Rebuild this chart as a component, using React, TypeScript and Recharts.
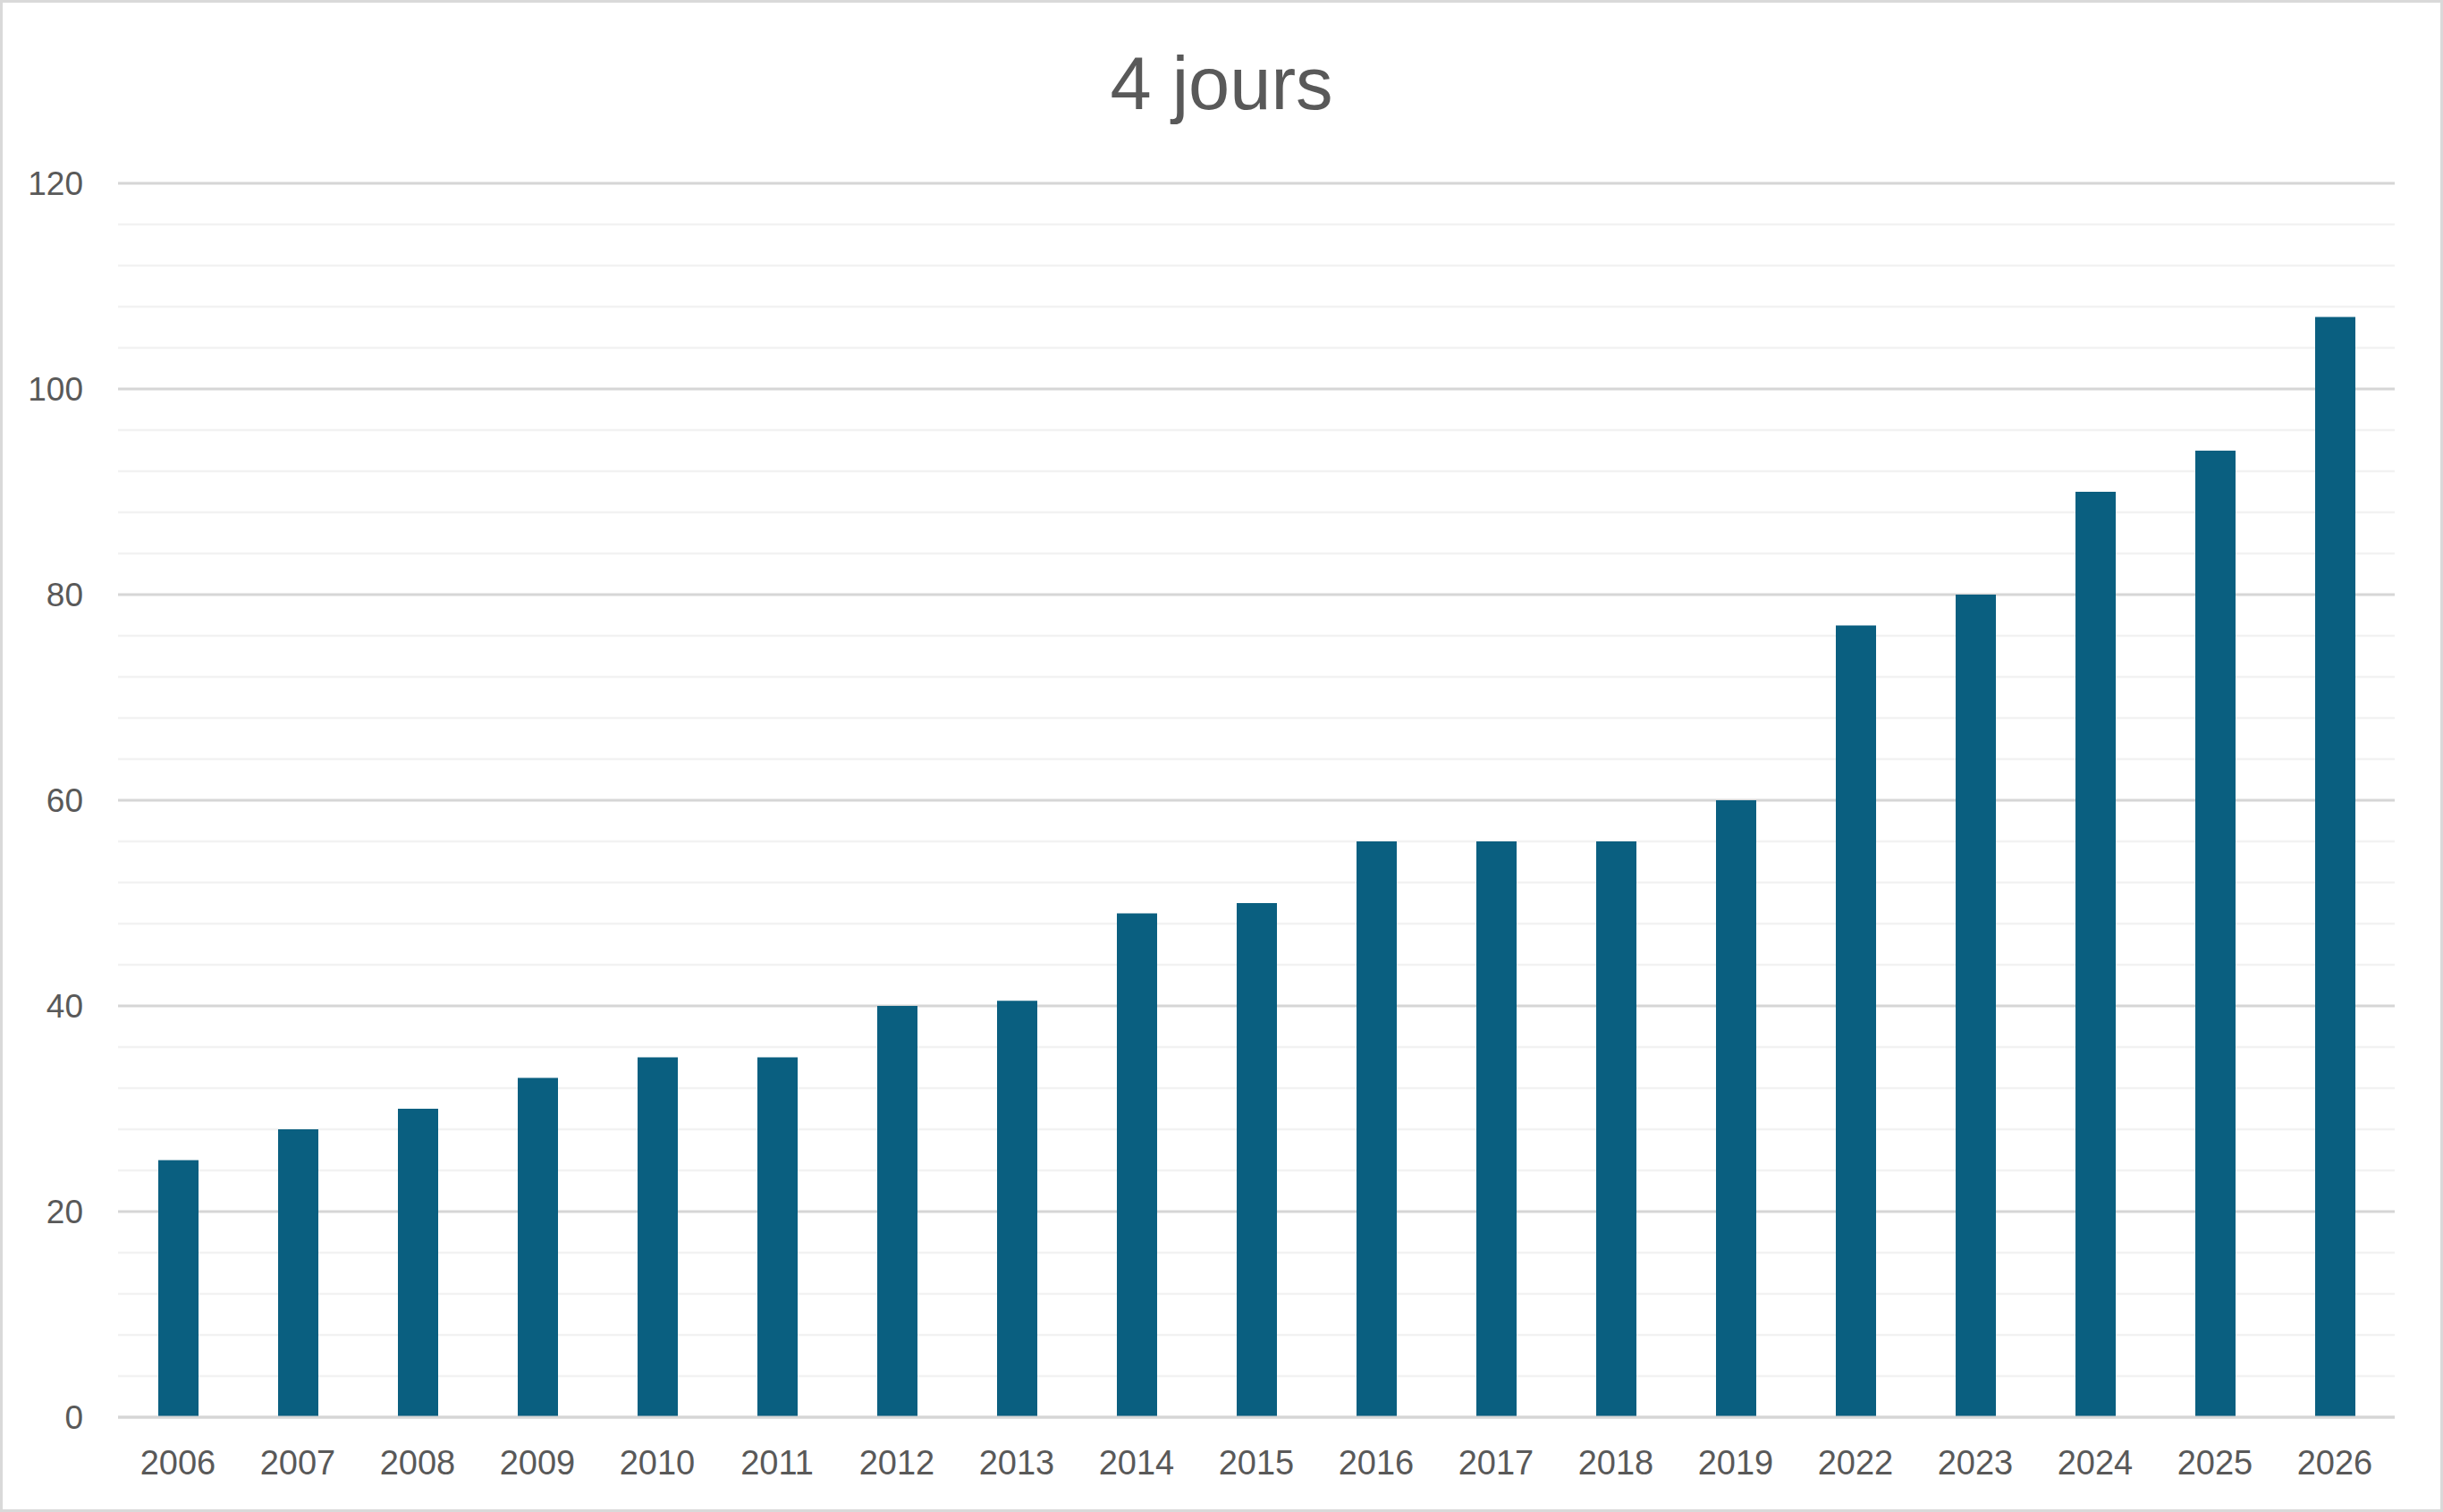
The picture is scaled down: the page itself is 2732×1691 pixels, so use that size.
import { BarChart, Bar, XAxis, YAxis, CartesianGrid } from "recharts";

// Values ("4 jours" per year)
const years = [
  "2006", "2007", "2008", "2009", "2010", "2011", "2012", "2013", "2014", "2015",
  "2016", "2017", "2018", "2019", "2022", "2023", "2024", "2025", "2026",
];
const counts = [25, 28, 30, 33, 35, 35, 40, 40.5, 49, 50, 56, 56, 56, 60, 77, 80, 90, 94, 107];
const majorTicks = [0, 20, 40, 60, 80, 100, 120];
const minorTicks = [
  4, 8, 12, 16, 24, 28, 32, 36, 44, 48, 52, 56, 64, 68, 72, 76, 84, 88, 92, 96, 104, 108, 112, 116,
];

const data = years.map((year, i) => ({ year, value: counts[i] }));

const FONT = "'Liberation Sans', Arial, sans-serif";
const TEXT = "#595959";

export default function App() {
  return (
    <div
      style={{
        position: "absolute",
        left: 0,
        top: 0,
        width: 2732,
        height: 1691,
        background: "#ffffff",
        boxShadow: "inset 0 0 0 3px #d9d9d9",
        fontFamily: FONT,
      }}
    >
      {/* Title */}
      <div
        style={{
          position: "absolute",
          left: 0,
          top: 52,
          width: 2732,
          textAlign: "center",
          fontSize: 83,
          lineHeight: 1,
          color: TEXT,
        }}
      >
        4 jours
      </div>

      <BarChart
        width={2732}
        height={1691}
        data={data}
        margin={{ top: 205, right: 54, left: 32, bottom: 46 }}
      >
        {/* minor grid every 4 units, then major grid every 20 */}
        <CartesianGrid
          vertical={false}
          horizontalValues={minorTicks}
          syncWithTicks={false}
          stroke="#f2f2f2"
          strokeWidth={2.5}
        />
        <CartesianGrid vertical={false} stroke="#d6d6d6" strokeWidth={2.8} />

        <XAxis
          dataKey="year"
          height={60}
          tickLine={false}
          tickSize={0}
          tickMargin={37}
          axisLine={{ stroke: "#d6d6d6", strokeWidth: 3 }}
          tick={{ fontSize: 38, fill: TEXT, fontFamily: FONT }}
          interval={0}
        />
        <YAxis
          width={100}
          domain={[0, 120]}
          ticks={majorTicks}
          tickLine={false}
          tickSize={0}
          tickMargin={39}
          axisLine={false}
          tick={{ fontSize: 37, fill: TEXT, fontFamily: FONT }}
        />

        <Bar dataKey="value" fill="#0a5f80" barSize={45} isAnimationActive={false} />
      </BarChart>
    </div>
  );
}
